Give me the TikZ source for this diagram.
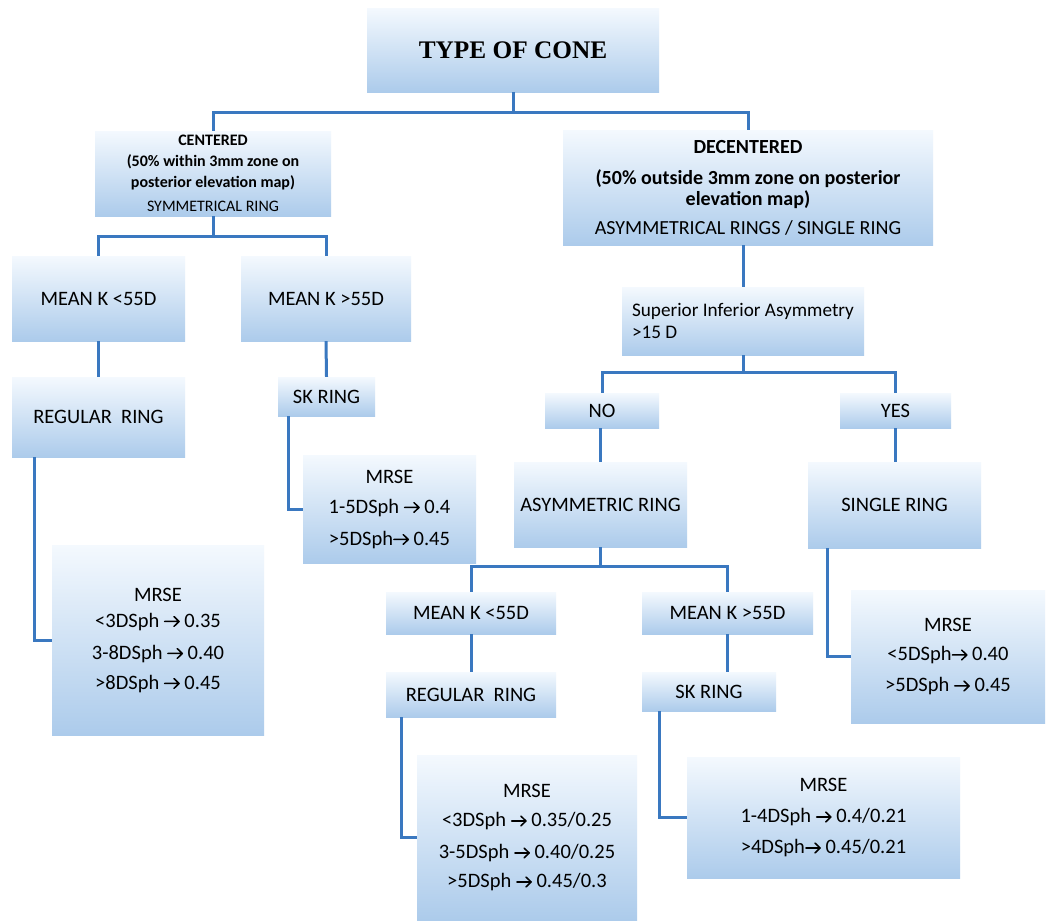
\documentclass[tikz,border=0pt]{standalone}
\usepackage{fontspec}
\setmainfont{Carlito}
\newfontfamily\titlefont{Liberation Serif}
\newcommand{\myarr}{\tikz[baseline=-0.27em]\draw[line width=0.075em, line cap=round, line join=round] (0,0) -- (0.7em,0) (0.45em,0.24em) -- (0.7em,0) -- (0.45em,-0.24em);}
\definecolor{boxtop}{RGB}{244,249,254}
\definecolor{boxbot}{RGB}{172,203,235}
\definecolor{linecol}{RGB}{58,120,192}
\tikzset{
  box/.style={shade, top color=boxtop, bottom color=boxbot, draw=none, align=center, inner sep=0pt,
    font=\fontsize{20.5}{30}\selectfont},
  conn/.style={draw=linecol, line width=3pt}
}
\begin{document}
\begin{tikzpicture}[x=1pt,y=-1pt]
\useasboundingbox[fill=white] (0,0) rectangle (1046,922);
% boxes
\node[box, minimum width=292, minimum height=84, font=\titlefont\bfseries\fontsize{25.3}{30}\selectfont] (title) at (513,50) {TYPE OF CONE};
\node[box, minimum width=236, minimum height=85, font=\fontsize{16}{21}\selectfont] (cent) at (213,173.5)
  {\bfseries CENTERED\\ \bfseries (50\% within 3mm zone on\\ \bfseries posterior elevation map)\\[3pt] SYMMETRICAL RING};
\node[box, minimum width=370, minimum height=115, font=\fontsize{20}{21}\selectfont] (decent) at (748,187.5)
  {\bfseries DECENTERED\\[10pt] \bfseries (50\% outside 3mm zone on posterior\\ \bfseries elevation map)\\[8pt] ASYMMETRICAL RINGS / SINGLE RING};
\node[box, minimum width=173, minimum height=85] (mk1) at (98.5,298.5) {MEAN K <55D};
\node[box, minimum width=170, minimum height=85] (mk2) at (326,298.5) {MEAN K >55D};
\node[box, minimum width=173, minimum height=80] (reg1) at (98.5,417) {REGULAR~~RING};
\node[box, minimum width=212, minimum height=190] (mrse1) at (158,640)
  {MRSE\\[-4pt] <3DSph \myarr{} 0.35\\[2pt] 3-8DSph \myarr{} 0.40\\ >8DSph \myarr{} 0.45};
\node[box, minimum width=97, minimum height=39] (sk1) at (326.5,396.5) {SK RING};
\node[box, minimum width=173, minimum height=108] (mrse2) at (389.5,509)
  {MRSE\\ 1-5DSph \myarr{} 0.4\\[2pt] >5DSph\myarr{} 0.45};
\node[box, minimum width=242, minimum height=68, align=left, font=\fontsize{19.2}{22}\selectfont] (sia) at (743,321)
  {Superior Inferior Asymmetry\\ >15 D};
\node[box, minimum width=114, minimum height=35] (no) at (602,410.5) {NO};
\node[box, minimum width=111, minimum height=35] (yes) at (895.5,410.5) {YES};
\node[box, minimum width=173, minimum height=85] (asym) at (600.5,504.5) {ASYMMETRIC RING};
\node[box, minimum width=170, minimum height=42] (mk3) at (471,613) {MEAN K <55D};
\node[box, minimum width=171, minimum height=42] (mk4) at (727.5,613) {MEAN K >55D};
\node[box, minimum width=170, minimum height=45] (reg2) at (471,694.5) {REGULAR~~RING};
\node[box, minimum width=134, minimum height=39] (sk2) at (709,691.5) {SK RING};
\node[box, minimum width=220, minimum height=165] (mrse3) at (527,837.5)
  {MRSE\\[-1pt] <3DSph \myarr{} 0.35/0.25\\[2pt] 3-5DSph \myarr{} 0.40/0.25\\[-1pt] >5DSph \myarr{} 0.45/0.3};
\node[box, minimum width=273, minimum height=121] (mrse4) at (823.5,817.5)
  {MRSE\\[1pt] 1-4DSph \myarr{} 0.4/0.21\\[1pt] >4DSph\myarr{} 0.45/0.21};
\node[box, minimum width=173, minimum height=86] (single) at (894.5,505) {SINGLE RING};
\node[box, minimum width=194, minimum height=133] (mrse5) at (948,656.5)
  {MRSE\\[-1pt] <5DSph\myarr{} 0.40\\[1pt] >5DSph \myarr{} 0.45};
% junctions
\coordinate (j1) at (513,112);
\coordinate (j2) at (213,236);
\coordinate (j3) at (743,372);
\coordinate (j4) at (600.5,566);
% connectors
\draw[conn] (title.south) -- (j1);
\draw[conn] (cent.north) |- (j1) -| (decent.north);
\draw[conn] (cent.south) -- (j2);
\draw[conn] (mk1.north) |- (j2) -| (mk2.north);
\draw[conn] (mk1.south) -- (reg1.north);
\draw[conn] (mk2.south) -- (sk1.north);
\draw[conn] (sia.north |- decent.south) -- (sia.north);
\draw[conn] (sia.south) -- (j3);
\draw[conn] (no.north) |- (j3) -| (yes.north);
\draw[conn] (asym.north |- no.south) -- (asym.north);
\draw[conn] (yes.south) -- (yes.south |- single.north);
\draw[conn] (asym.south) -- (j4);
\draw[conn] (mk3.north) |- (j4) -| (mk4.north);
\draw[conn] (mk3.south) -- (reg2.north);
\draw[conn] (mk4.south) -- (mk4.south |- sk2.north);
\draw[conn] ([xshift=23pt]reg1.south west) |- (mrse1.west);
\draw[conn] ([xshift=11pt]sk1.south west) |- (mrse2.west);
\draw[conn] ([xshift=16pt]reg2.south west) |- (mrse3.west);
\draw[conn] ([xshift=18pt]sk2.south west) |- (mrse4.west);
\draw[conn] ([xshift=20pt]single.south west) |- (mrse5.west);
\end{tikzpicture}
\end{document}
